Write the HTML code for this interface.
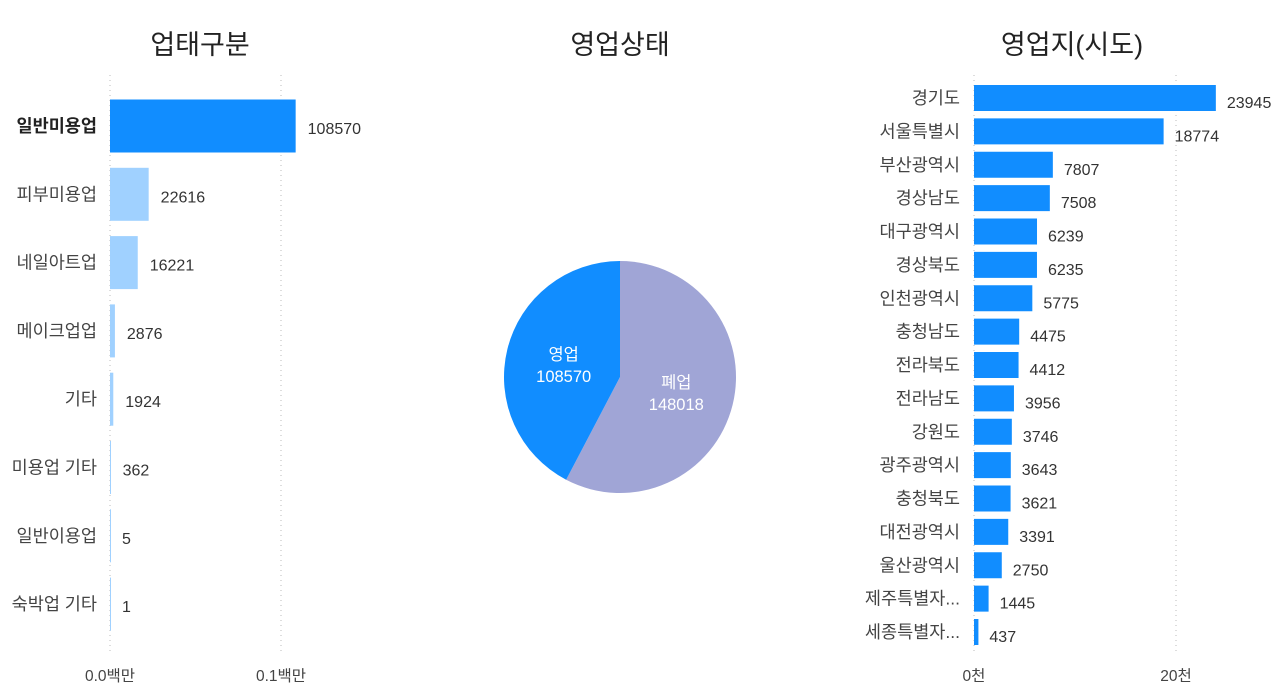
<!DOCTYPE html>
<html><head><meta charset="utf-8">
<style>
html,body{margin:0;padding:0;background:#fff;}
svg{display:block;font-family:"Liberation Sans","Noto Sans CJK KR",sans-serif;}
</style></head>
<body>
<svg id="c" width="1280" height="692">
<text x="200" y="54" font-size="27" text-anchor="middle" fill="#222">업태구분</text>
<text x="620" y="54" font-size="27" text-anchor="middle" fill="#222">영업상태</text>
<text x="1072" y="54" font-size="27" text-anchor="middle" fill="#222">영업지(시도)</text>
<g id="left"></g>
<g id="pie"></g>
<g id="right"></g>
</svg>
<script>
const typeCats=["일반미용업","피부미용업","네일아트업","메이크업업","기타","미용업 기타","일반이용업","숙박업 기타"];
const typeVals=[108570,22616,16221,2876,1924,362,5,1];
const typeTicks=[0,100000];
const typeTickLabels=["0.0백만","0.1백만"];
const statusCats=["영업","폐업"];
const statusVals=[108570,148018];
const regionCats=["경기도","서울특별시","부산광역시","경상남도","대구광역시","경상북도","인천광역시","충청남도","전라북도","전라남도","강원도","광주광역시","충청북도","대전광역시","울산광역시","제주특별자...","세종특별자..."];
const regionVals=[23945,18774,7807,7508,6239,6235,5775,4475,4412,3956,3746,3643,3621,3391,2750,1445,437];
const regionTicks=[0,20000];
const regionTickLabels=["0천","20천"];

const NS="http://www.w3.org/2000/svg";
function mk(tag,attrs,parent){const e=document.createElementNS(NS,tag);for(const k in attrs)e.setAttribute(k,attrs[k]);parent.appendChild(e);return e;}

(function(){
  const g=document.getElementById('left');
  const x0=110, sc=171/100000, yTop=126, pitch=68.3, bh=53;
  const xs=v=>x0+v*sc;
  typeTicks.forEach((t,i)=>{
    const gl=mk('line',{x1:xs(t),x2:xs(t),y1:75,y2:655,stroke:'#bbb','stroke-dasharray':'1,4'},g);
    
    
    const tl=mk('text',{x:xs(t),y:681,'font-size':15.5,'text-anchor':'middle',fill:'#444'},g);
    tl.textContent=typeTickLabels[i];
    
    
  });
  typeCats.forEach((c,i)=>{
    const cy=yTop+i*pitch;
    const r=mk('rect',{x:x0,y:cy-bh/2,width:Math.max(1,typeVals[i]*sc),height:bh,fill:i==0?'#118DFF':'#A0D1FF'},g);
    
    
    const l=mk('text',{x:97,y:cy+6,'font-size':17.5,'text-anchor':'end',fill:i==0?'#222':'#444','font-weight':i==0?'bold':'normal'},g);
    l.textContent=c;
    
    
    const v=mk('text',{x:xs(typeVals[i])+12,y:cy+8,'font-size':16,fill:'#333'},g);
    v.textContent=typeVals[i];
    
    
  });
})();

(function(){
  const g=document.getElementById('pie');
  const cx=620, cy=377, R=116;
  const total=statusVals.reduce((a,b)=>a+b,0);
  const colors=['#118DFF','#A0A5D6'];
  const frac1=statusVals[1]/total;
  const pt=a=>[cx+R*Math.sin(a),cy-R*Math.cos(a)];
  const segs=[{i:1,a0:0,a1:frac1*2*Math.PI},{i:0,a0:frac1*2*Math.PI,a1:2*Math.PI}];
  segs.forEach(s=>{
    const p0=pt(s.a0),p1=pt(s.a1);
    const large=(s.a1-s.a0)>Math.PI?1:0;
    const p=mk('path',{d:`M${cx},${cy} L${p0[0]},${p0[1]} A${R},${R} 0 ${large} 1 ${p1[0]},${p1[1]} Z`,fill:colors[s.i]},g);
    
    
    const am=(s.a0+s.a1)/2;
    const lx=cx+R*0.5*Math.sin(am), ly=cy-R*0.5*Math.cos(am);
    const t1=mk('text',{x:lx,y:ly-3,'font-size':16.5,'text-anchor':'middle',fill:'#fff'},g);
    t1.textContent=statusCats[s.i];
    
    
    const t2=mk('text',{x:lx,y:ly+19,'font-size':16.5,'text-anchor':'middle',fill:'#fff'},g);
    t2.textContent=statusVals[s.i];
    
    
  });
})();

(function(){
  const g=document.getElementById('right');
  const x0=974, sc=202/20000, yTop=98, pitch=33.375, bh=26;
  const xs=v=>x0+v*sc;
  regionTicks.forEach((t,i)=>{
    const gl=mk('line',{x1:xs(t),x2:xs(t),y1:75,y2:655,stroke:'#bbb','stroke-dasharray':'1,4'},g);
    
    
    const tl=mk('text',{x:xs(t),y:681,'font-size':15.5,'text-anchor':'middle',fill:'#444'},g);
    tl.textContent=regionTickLabels[i];
    
    
  });
  regionCats.forEach((c,i)=>{
    const cy=yTop+i*pitch;
    const r=mk('rect',{x:x0,y:cy-bh/2,width:Math.max(1,regionVals[i]*sc),height:bh,fill:'#118DFF'},g);
    
    
    const l=mk('text',{x:960,y:cy+6,'font-size':17.5,'text-anchor':'end',fill:'#444'},g);
    l.textContent=c;
    
    
    const v=mk('text',{x:xs(regionVals[i])+11,y:cy+10,'font-size':16,fill:'#333'},g);
    v.textContent=regionVals[i];
    
    
  });
})();
</script>
</body></html>
